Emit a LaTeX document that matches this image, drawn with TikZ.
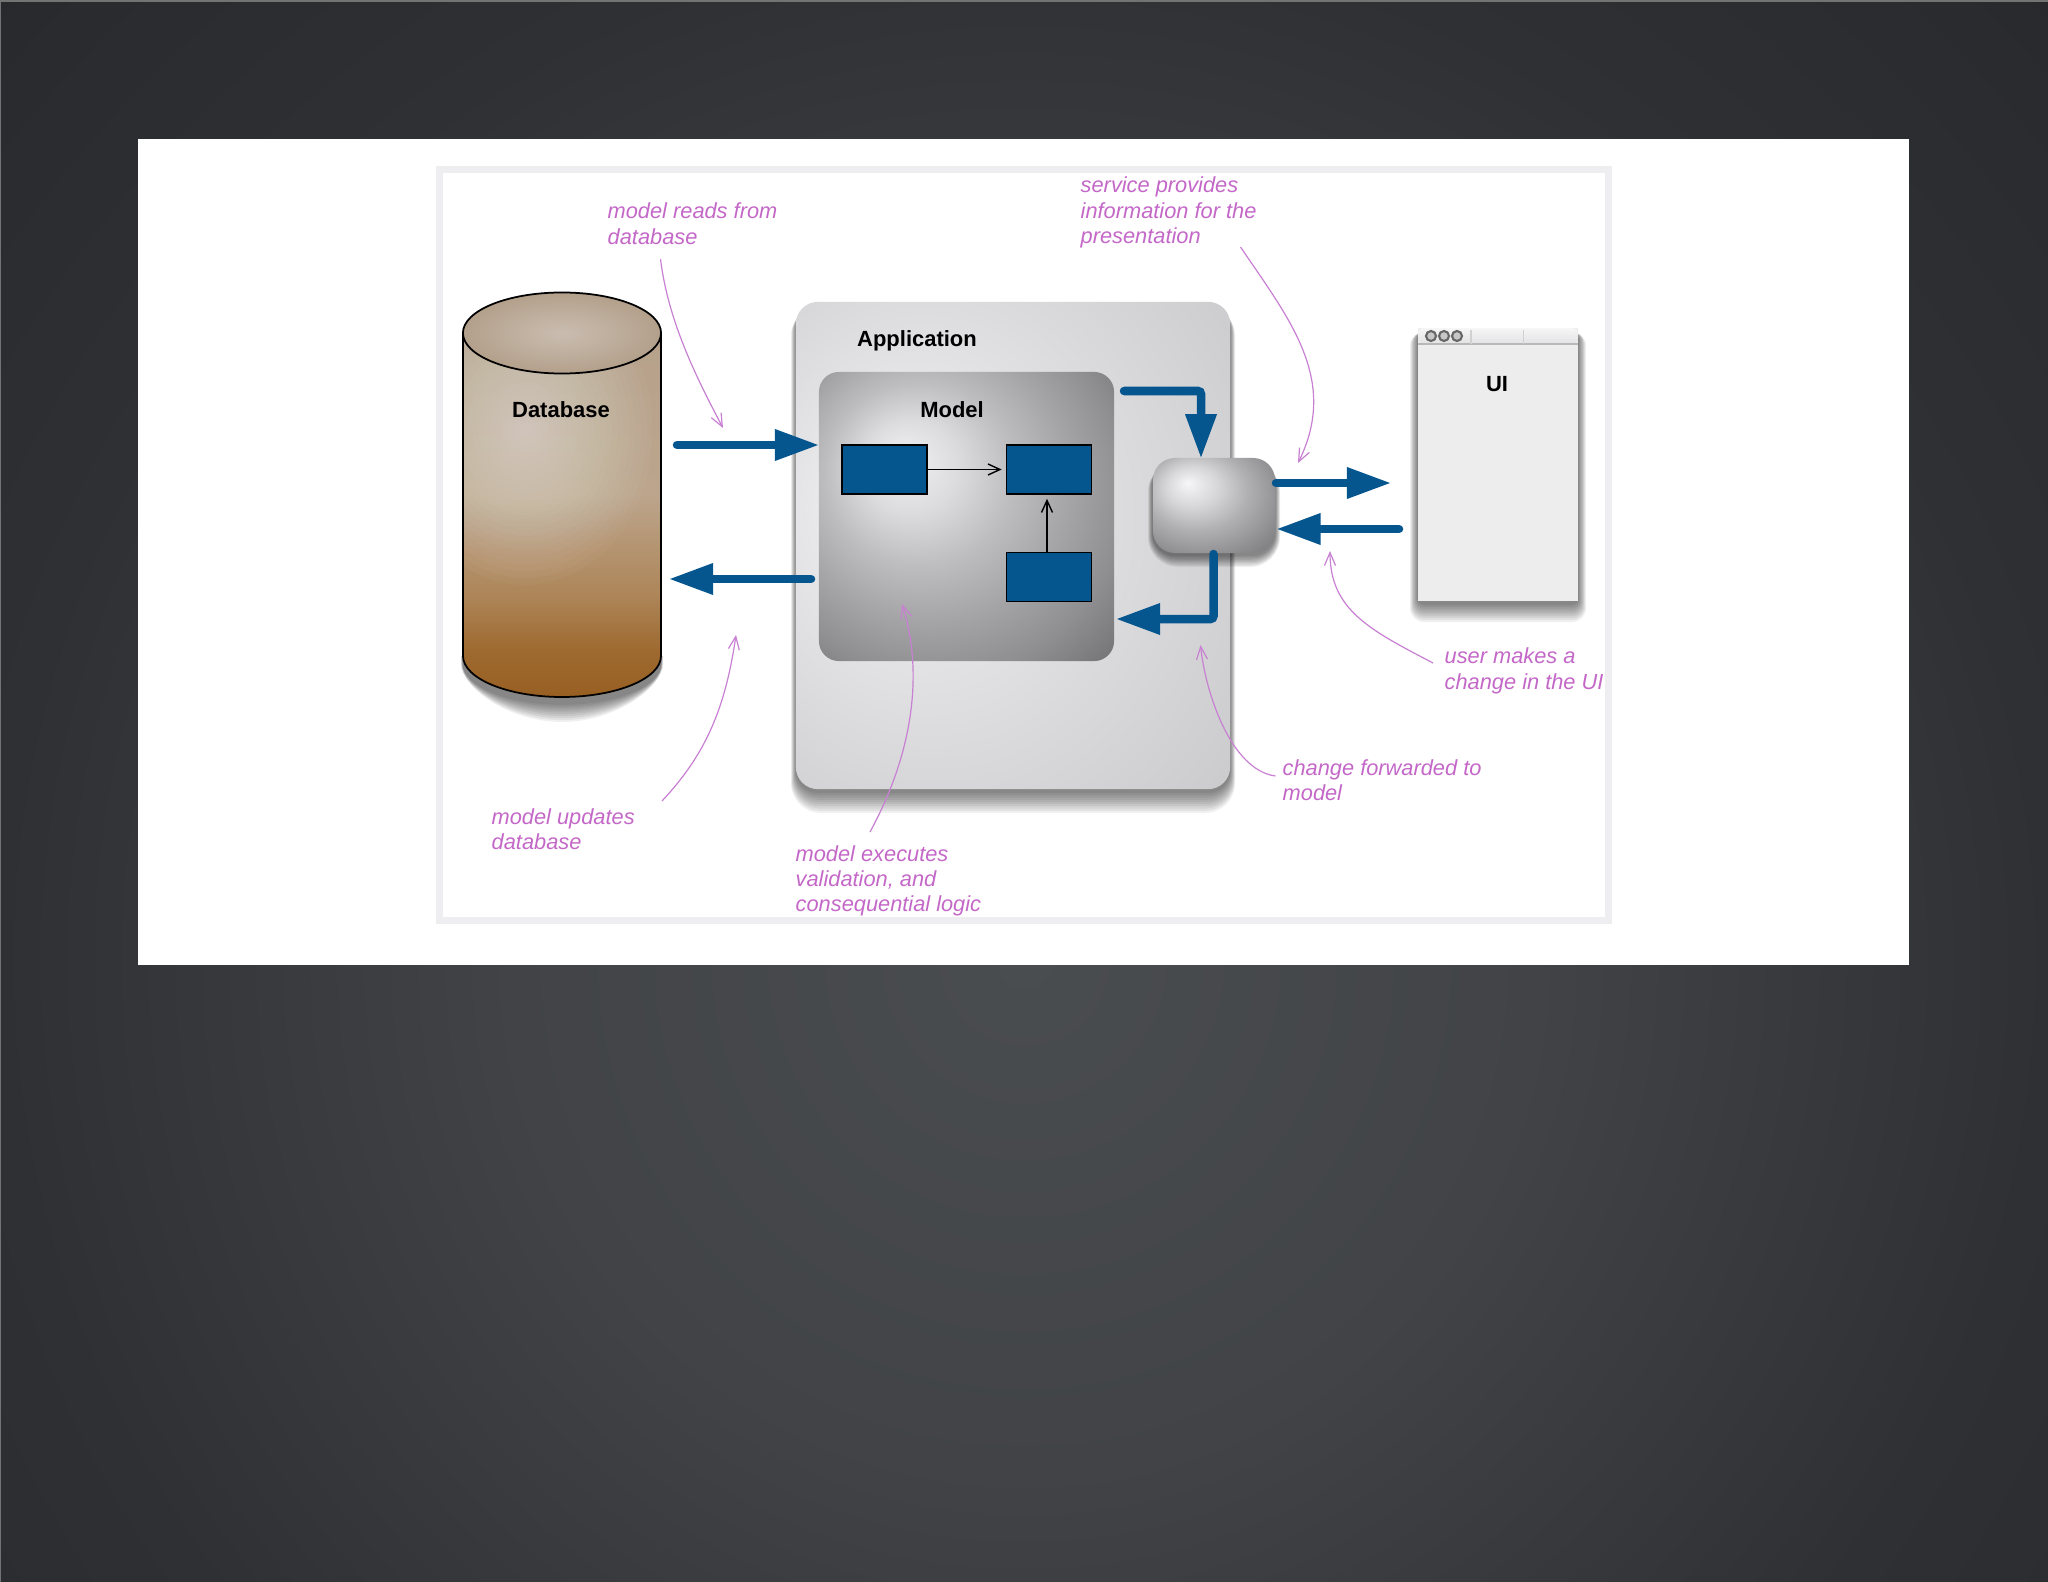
\documentclass[tikz,border=0pt]{standalone}
\usepackage{fontspec}
\setmainfont{Liberation Sans}
\usetikzlibrary{arrows.meta,calc,shapes.geometric}
\definecolor{bluearrow}{HTML}{05558F}
\definecolor{pinktext}{HTML}{C468C8}
\definecolor{pinkline}{HTML}{C880D2}
\definecolor{framegray}{HTML}{EEEEF0}
\definecolor{bgA}{HTML}{4A4D4F}\definecolor{bgB}{HTML}{414346}\definecolor{bgC}{HTML}{2F3034}\definecolor{bgD}{HTML}{2A2B2F}\definecolor{bgE}{HTML}{1F2023}
\pgfdeclareradialshading{bgshade}{\pgfpoint{0bp}{0bp}}{color(0bp)=(bgA);color(12.5bp)=(bgB);color(25bp)=(bgC);color(32.5bp)=(bgD);color(42.5bp)=(bgE);color(60bp)=(bgE)}
\definecolor{apA}{HTML}{F2F2F4}\definecolor{apB}{HTML}{DADADC}\definecolor{apC}{HTML}{C6C6C9}\definecolor{apD}{HTML}{B5B5B8}
\pgfdeclareradialshading{appshade}{\pgfpoint{-15bp}{4.5bp}}{color(0bp)=(apA);color(24bp)=(apB);color(46bp)=(apC);color(65bp)=(apD)}
\definecolor{moA}{HTML}{F1F1F3}\definecolor{moB}{HTML}{DCDCDE}\definecolor{moC}{HTML}{BDBDBF}\definecolor{moD}{HTML}{A5A5A8}\definecolor{moE}{HTML}{8F8F92}\definecolor{moF}{HTML}{636366}
\pgfdeclareradialshading{modelshade}{\pgfpoint{-11bp}{10bp}}{color(0bp)=(moA);color(8bp)=(moB);color(16bp)=(moC);color(24bp)=(moD);color(32bp)=(moE);color(45bp)=(moF);color(60bp)=(moF)}
\definecolor{svA}{HTML}{F6F6F8}\definecolor{svB}{HTML}{D5D5D7}\definecolor{svC}{HTML}{B0B0B2}\definecolor{svD}{HTML}{8A8A8C}\definecolor{svE}{HTML}{707072}
\pgfdeclareradialshading{svcshade}{\pgfpoint{-11bp}{12bp}}{color(0bp)=(svA);color(11bp)=(svB);color(21bp)=(svC);color(34bp)=(svD);color(44bp)=(svE);color(60bp)=(svE)}
\definecolor{dbA}{HTML}{B5A08B}\definecolor{dbB}{HTML}{BCA58C}\definecolor{dbC}{HTML}{AD8558}\definecolor{dbD}{HTML}{9E6A30}\definecolor{dbE}{HTML}{985F22}
\pgfdeclareverticalshading{dbbody}{100bp}{color(0bp)=(dbE);color(25bp)=(dbE);color(31bp)=(dbD);color(37.5bp)=(dbC);color(50bp)=(dbB);color(75bp)=(dbA);color(100bp)=(dbA)}
\definecolor{dtA}{HTML}{CABDB0}\definecolor{dtB}{HTML}{B3A08B}
\pgfdeclareradialshading{dbtop}{\pgfpoint{0bp}{0bp}}{color(0bp)=(dtA);color(25bp)=(dtB);color(50bp)=(dtB)}
\definecolor{ubA}{HTML}{F6F6F7}\definecolor{ubB}{HTML}{E2E2E4}
\pgfdeclareverticalshading{uibar}{100bp}{color(0bp)=(ubB);color(25bp)=(ubB);color(75bp)=(ubA);color(100bp)=(ubA)}
% #1..#4 box, #5 corner radius, #6 side reach per step, #7 foot reach per step
\newcommand\softshadow[7]{%
  \foreach \i in {1,...,10}{%
    \fill[black,opacity=.06,rounded corners=#5*0.01cm+\i*0.008cm]
      (#1-\i*#6,#2+4) rectangle (#3+\i*#6,#4+2+\i*#7);}}
\tikzset{
  x=0.01cm,y=-0.01cm,
  notelabel/.style={inner sep=0pt,anchor=north west,align=left,text=pinktext,
    font=\fontsize{6.2}{7.25}\selectfont\itshape},
  boldlabel/.style={inner sep=0pt,font=\fontsize{6.25}{7.5}\selectfont\bfseries,text=black},
  leader/.style={draw=pinkline,line width=.34pt,-{Straight Barb[length=0.13cm,width=0.11cm]}},
  flow/.style={draw=bluearrow,line width=0.085cm,line cap=round,
    -{Triangle[length=0.43cm,width=0.32cm,fill=bluearrow,line width=0pt]}},
  thinarrow/.style={draw=black,line width=.4pt,-{Straight Barb[length=0.12cm,width=0.11cm]}},
  bluebox/.style={draw=black,line width=.45pt,fill=bluearrow,inner sep=0pt,minimum width=0.85cm,minimum height=0.49cm},
  plainbox/.style={inner sep=0pt}
}
\begin{document}
\begin{tikzpicture}
\useasboundingbox (0,0) rectangle (2048,1582);
\begin{scope}
  \clip (0,0) rectangle (2048,1582);
  \shade[shading=bgshade] (0,-68) rectangle (2048,1988);
\end{scope}
\draw[black!55,line width=.5pt] (0,1582) -- (0,1) -- (2048,1);
\node[plainbox,fill=white,minimum width=17.695cm,minimum height=8.26cm] (panel) at (1023.25,552) {};
\node[plainbox,draw=framegray,line width=0.07cm,minimum width=11.69cm,minimum height=7.5cm] (frame) at (1024,545) {};
% database
\foreach \i in {1,...,10}{
  \fill[black,opacity=.06] (463-\i*.2,656) -- (463-\i*.2,664) .. controls (463-\i*.2,686) and (507,703+\i*1.9) .. (562,703+\i*1.9) .. controls (617,703+\i*1.9) and (661+\i*.2,686) .. (661+\i*.2,664) -- (661+\i*.2,656) -- cycle;}
\begin{scope}
  \path[clip] (463,333) -- (463,656) .. controls (463,678.4) and (507.3,697) .. (562,697) .. controls (616.7,697) and (661,678.4) .. (661,656) -- (661,333) .. controls (661,310) and (616.7,292.5) .. (562,292.5) .. controls (507.3,292.5) and (463,310) .. (463,333) -- cycle;
  \shade[shading=dbbody] (463,292) rectangle (661,698);
  \foreach \i in {1,...,22}{
    \fill[white,opacity=.026] (525,431) ellipse [x radius=\i*5.8,y radius=\i*7];}
\end{scope}
\draw[black,line width=.5pt] (463,333) -- (463,656) .. controls (463,678.4) and (507.3,697) .. (562,697) .. controls (616.7,697) and (661,678.4) .. (661,656) -- (661,333);
\node[draw=black,line width=.5pt,shade,shading=dbtop,ellipse,minimum width=1.98cm,minimum height=0.81cm,inner sep=0pt] (dbcap) at (562,333) {};
\node[boldlabel] (dblabel) at (561,410) {Database};
% application
\softshadow{796}{302}{1230}{789}{22}{.5}{2.2}
\node[plainbox,shade,shading=appshade,rounded corners=0.22cm,minimum width=4.34cm,minimum height=4.87cm] (app) at (1013,545.5) {};
\node[boldlabel] (applabel) at (917,340.5) {Application};
\node[plainbox,shade,shading=modelshade,rounded corners=0.2cm,minimum width=2.95cm,minimum height=2.89cm] (model) at (966.5,516.5) {};
\node[boldlabel] (modellabel) at (952,410) {Model};
\node[bluebox] (b1) at (884.5,469.5) {};
\node[bluebox] (b2) at (1049,469.5) {};
\node[bluebox] (b3) at (1049,577) {};
\draw[thinarrow] (b1.east) -- ($(b2.west)+(-4,0)$);
\draw[thinarrow] ($(b3.north)+(-2,0)$) -- ($(b2.south)+(-2,4)$);
% service
\softshadow{1153}{458}{1275}{553}{22}{.5}{1.2}
\node[plainbox,shade,shading=svcshade,rounded corners=0.22cm,minimum width=1.22cm,minimum height=0.95cm] (svc) at (1214,505.5) {};
% UI window
\softshadow{1418}{328}{1578}{601}{6}{.8}{1.9}
\node[plainbox,fill=black!7!white,minimum width=1.6cm,minimum height=2.73cm] (ui) at (1498,464.5) {};
\shade[shading=uibar,rounded corners=0.06cm] (1418,344) -- (1418,328) -- (1578,328) -- (1578,344) -- cycle;
\draw[black!28,line width=.3pt] (1418,344) -- (1578,344);
\draw[black!18,line width=.3pt] (1471,330) -- (1471,344) (1523.5,330) -- (1523.5,344);
\foreach \cx/\nm in {1431/c1,1444/c2,1457/c3}
  \node[circle,draw=black!60,line width=.6pt,fill=black!22,inner sep=0pt,minimum size=0.1cm] (\nm) at (\cx,336) {};
\node[boldlabel] (uilabel) at (1497,384) {UI};
% thick flows
\coordinate (a1s) at (677,445);
\coordinate (a1t) at (818,445);
\coordinate (a2s) at (811,579);
\coordinate (a2t) at (670,579);
\coordinate (a3s) at (1124,391);
\coordinate (a3k) at (1201,391);
\coordinate (a4s) at (1213.5,554);
\coordinate (a4k) at (1213.5,619);
\coordinate (a4t) at (1117,619);
\coordinate (a5s) at (1276,483);
\coordinate (a5t) at (1390,483);
\coordinate (a6s) at (1399,529);
\coordinate (a6t) at (1277.5,529);
\draw[flow] (a1s) -- (a1t);
\draw[flow] (a2s) -- (a2t);
\draw[flow,rounded corners=0.03cm] (a3s) -- (a3k) -- (svc.north -| a3k);
\draw[flow,rounded corners=0.03cm] (a4s) -- (a4k) -- (a4t);
\draw[flow] (a5s) -- (a5t);
\draw[flow] (a6s) -- (a6t);
% notes
\node[notelabel] (n1) at (607,201.5) {model reads from\\[.3pt]database};
\node[notelabel] (n2) at (1080,176.5) {service provides\\information for the\\presentation};
\node[notelabel] (n3) at (491,807.5) {model updates\\database};
\node[notelabel] (n4) at (795,844.5) {model executes\\validation, and\\consequential logic};
\node[notelabel] (n5) at (1282,758.5) {change forwarded to\\model};
\node[notelabel] (n6) at (1444,647) {user makes a\\change in the UI};
% leaders
\coordinate (l1s) at (660.5,259);
\coordinate (l1t) at (723,428);
\coordinate (l2s) at (1240.5,247);
\coordinate (l2t) at (1298,463);
\coordinate (l3s) at (1433,663);
\coordinate (l3t) at (1330,551);
\coordinate (l4s) at (1275.5,776);
\coordinate (l4t) at (1200.5,645);
\coordinate (l5s) at (870,832);
\coordinate (l5t) at (902,604);
\coordinate (l6s) at (662,801);
\coordinate (l6t) at (736,635);
\draw[leader] (l1s) .. controls (668,320) and (695,375) .. (l1t);
\draw[leader] (l2s) .. controls (1290,320) and (1339,380) .. (l2t);
\draw[leader] (l3s) .. controls (1370,630) and (1330,610) .. (l3t);
\draw[leader] (l4s) .. controls (1230,770) and (1205,690) .. (l4t);
\draw[leader] (l5s) .. controls (920,740) and (920,660) .. (l5t);
\draw[leader] (l6s) .. controls (705,755) and (725,710) .. (l6t);
\end{tikzpicture}
\end{document}
